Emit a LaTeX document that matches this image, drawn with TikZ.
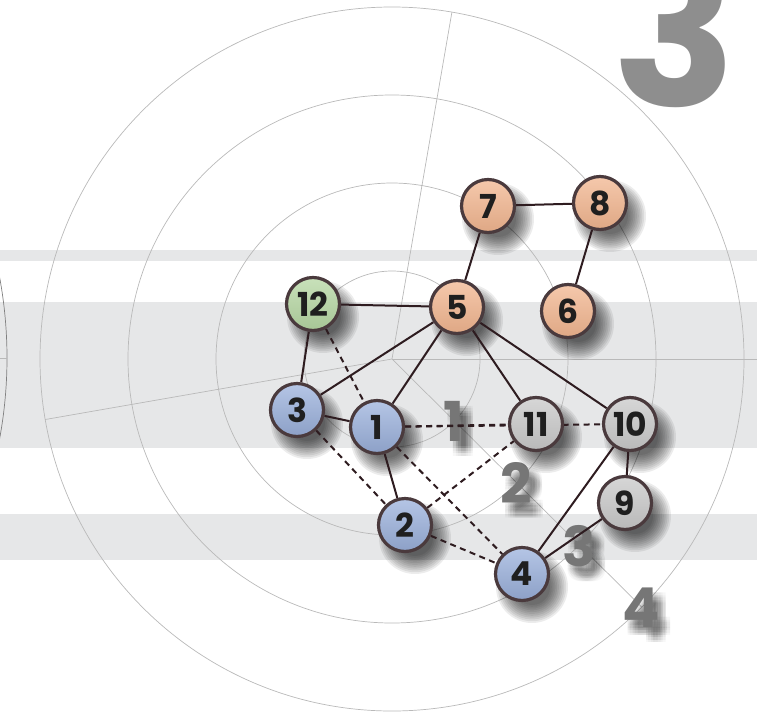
\documentclass[tikz,border=0pt]{standalone}
\usepackage{fontspec}
\setmainfont{Poppins}
\usepackage{xcolor}
\usetikzlibrary{calc}
\definecolor{bandgray}{HTML}{E6E7E8}
\definecolor{ringgray}{HTML}{B9B9B9}
\definecolor{linkbrown}{HTML}{2E1C20}
\definecolor{rimbrown}{HTML}{4A3A3D}
\definecolor{peach}{HTML}{F2B690}
\definecolor{sage}{HTML}{B6D7A3}
\definecolor{lavblue}{HTML}{9CB2DD}
\definecolor{stone}{HTML}{C9C9C9}
\definecolor{labgray}{HTML}{767676}
\definecolor{sheetgray}{HTML}{8E8E8E}
\pgfdeclarelayer{bands}
\pgfdeclarelayer{shade}
\pgfdeclarelayer{links}
\pgfsetlayers{bands,shade,links,main}
\tikzset{
  vtx/.style={circle, draw=rimbrown, line width=3.2pt, minimum size=53pt,
    inner sep=0pt, text=black!88, font=\fontsize{33}{33}\selectfont\bfseries},
  vtx peach/.style={vtx, top color=peach!75!white, bottom color=peach!92!black},
  vtx sage/.style={vtx, top color=sage!75!white, bottom color=sage!92!black},
  vtx blue/.style={vtx, top color=lavblue!75!white, bottom color=lavblue!90!black},
  vtx stone/.style={vtx, top color=stone!75!white, bottom color=stone!92!black},
  link/.style={draw=linkbrown, line width=2pt},
  ghost/.style={link, dash pattern=on 6pt off 4.5pt},
  ringline/.style={draw=ringgray, line width=0.7pt},
  ringnum/.style={inner sep=0pt, text=labgray, font=\fontsize{55}{55}\selectfont\bfseries},
  bignum/.style={inner sep=0pt, anchor=base, text=sheetgray, font=\fontsize{205}{205}\selectfont\bfseries},
  softdisk/.style={fill=black, opacity=0.075}
}

\begin{document}
\begin{tikzpicture}[x=1pt,y=-1pt]
\useasboundingbox (0,0) rectangle (757,712);

\begin{pgfonlayer}{bands}
  \foreach \ya/\yb in {250/261,302/448,514/560}
    \fill[bandgray] (0,\ya) rectangle (757,\yb);

  \coordinate (hub) at (392,359);
  \foreach \r in {88,176,264,352}
    \draw[ringline] (hub) circle[radius=\r pt];
  \foreach \a/\l in {0/365,80.2/352,189.9/352,-44.8/352}
    \draw[ringline] (hub) -- ++(\a:\l pt);

  % next target, off the left side
  \coordinate (hubleft) at (-433,358);
  \draw[ringline, draw=gray] (hubleft) circle[radius=440pt];
  \draw[ringline] (hubleft) -- ++(0:440pt);

  \node[bignum] (sheet) at (675,106) {3};

  \foreach \r [count=\i] in {88,176,264,352}{
    \foreach \dx in {-5,-2.5,0,2.5,5}
      \foreach \dy in {-5,-2.5,0,2.5,5}
        \node[ringnum, text=black, opacity=0.03] (ringsh\i)
          at ($(hub)+(-45:\r pt)+(8+\dx,10+\dy)$) {\i};
    \node[ringnum] (ring\i) at ($(hub)+(-45:\r pt)$) {\i};
  }
\end{pgfonlayer}

\node[vtx peach] (n7) at (488,206) {7};
\node[vtx peach] (n8) at (600,203) {8};
\node[vtx sage]  (n12) at (313,304) {12};
\node[vtx peach] (n5) at (457,307) {5};
\node[vtx peach] (n6) at (568,311) {6};
\node[vtx blue]  (n3) at (297,410) {3};
\node[vtx blue]  (n1) at (377,427) {1};
\node[vtx stone] (n11) at (536,424) {11};
\node[vtx stone] (n10) at (630,424) {10};
\node[vtx stone] (n9) at (625,503) {9};
\node[vtx blue]  (n2) at (405,525) {2};
\node[vtx blue]  (n4) at (522,574) {4};

% soft shadows under the vertices
\begin{pgfonlayer}{shade}
  \foreach \v in {n1,n2,n3,n4,n5,n6,n7,n8,n9,n10,n11,n12}
    \foreach \s in {0,...,10}
      \fill[softdisk] ($(\v.center)+(10,13)$) circle[radius=18pt+1.8pt*\s];
\end{pgfonlayer}

\begin{pgfonlayer}{links}
  \foreach \a/\b in {n7/n8,n7/n5,n8/n6,n12/n5,n12/n3,n5/n3,n5/n1,n5/n11,
                     n5/n10,n3/n1,n1/n2,n10/n9,n10/n4,n9/n4}
    \draw[link] (\a) -- (\b);
  \foreach \a/\b in {n12/n1,n1/n11,n1/n10,n3/n2,n1/n4,n2/n11,n2/n4}
    \draw[ghost] (\a) -- (\b);
\end{pgfonlayer}

\end{tikzpicture}
\end{document}
